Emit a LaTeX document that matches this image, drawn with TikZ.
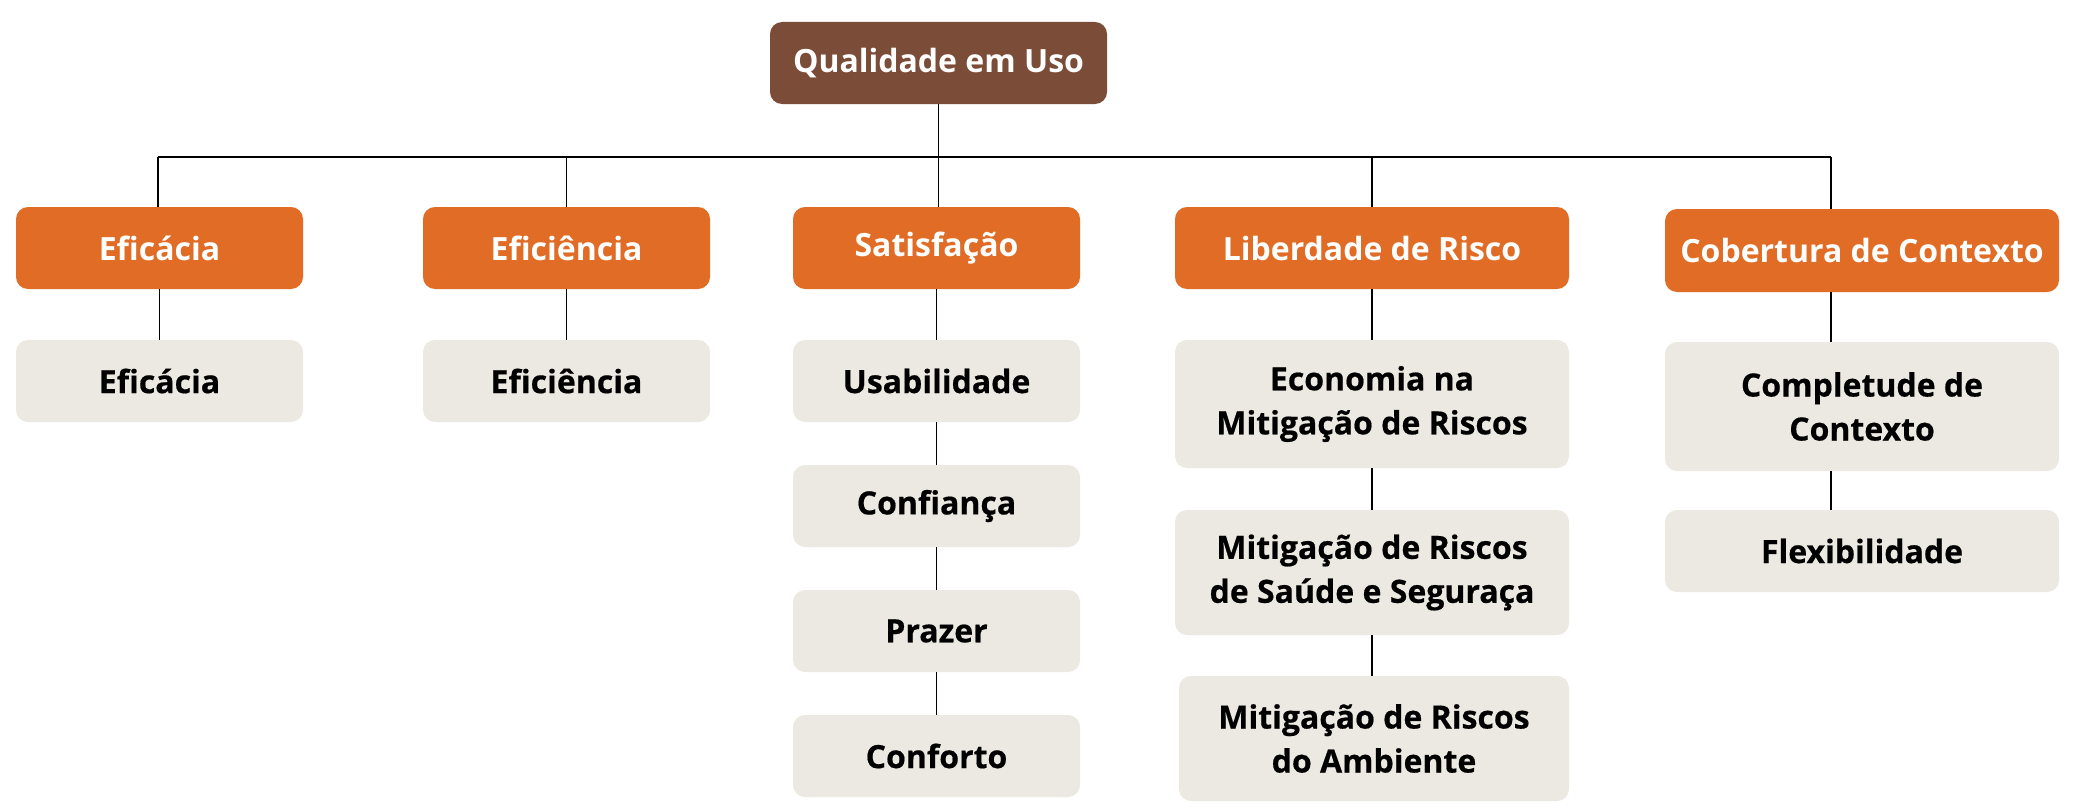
\documentclass[tikz,border=0pt]{standalone}
\usepackage{fontspec}
\setmainfont{Open Sans}
\IfFontExistsTF{Open Sans ExtraBold}
  {\newfontfamily\xbold{Open Sans ExtraBold}}
  {\newfontfamily\xbold{Open Sans}[FakeBold=0.5]}
\definecolor{qbrown}{HTML}{7B4C37}
\definecolor{qorange}{HTML}{E06C25}
\definecolor{qbeige}{HTML}{ECE9E2}
\tikzset{
  basebox/.style={rounded corners=12pt, inner sep=0pt, align=center},
  topbox/.style={basebox, fill=qbrown, text=white, font=\fontsize{32}{44}\selectfont\bfseries},
  catbox/.style={basebox, fill=qorange, text=white, font=\fontsize{32}{44}\selectfont\bfseries},
  subbox/.style={basebox, fill=qbeige, text=black, font=\fontsize{32}{44}\selectfont\xbold\bfseries},
  link/.style={draw=black, line width=1.6pt},
  buslink/.style={draw=black, line width=2.2pt}
}
\begin{document}
\begin{tikzpicture}[x=1pt,y=-1pt]
\useasboundingbox[fill=white] (0,0) rectangle (2076,808);
% top
\node[topbox, minimum width=337pt, minimum height=82pt] (q) at (938.5,63) {Qualidade em Uso};
% level 1
\node[catbox, minimum width=287pt, minimum height=82pt] (efc1) at (159.5,248) {Eficácia};
\node[catbox, minimum width=287pt, minimum height=82pt] (efi1) at (566.5,248) {Eficiência};
\node[catbox, minimum width=287pt, minimum height=82pt] (sat) at (936.5,248) {Satisfação};
\node[catbox, minimum width=394pt, minimum height=82pt] (lib) at (1372,248) {Liberdade de Risco};
\node[catbox, minimum width=394pt, minimum height=83pt] (cob) at (1862,250.5) {Cobertura de Contexto};
% level 2
\node[subbox, minimum width=287pt, minimum height=82pt] (efc2) at (159.5,381) {Eficácia};
\node[subbox, minimum width=287pt, minimum height=82pt] (efi2) at (566.5,381) {Eficiência};
\node[subbox, minimum width=287pt, minimum height=82pt] (usa) at (936.5,381) {Usabilidade};
\node[subbox, minimum width=287pt, minimum height=82pt] (conf) at (936.5,506) {Confiança};
\node[subbox, minimum width=287pt, minimum height=82pt] (praz) at (936.5,631) {Prazer};
\node[subbox, minimum width=287pt, minimum height=82pt] (conft) at (936.5,756) {Conforto};
\node[subbox, minimum width=394pt, minimum height=128pt] (eco) at (1372,404) {Economia na\\Mitigação de Riscos};
\node[subbox, minimum width=394pt, minimum height=125pt] (sau) at (1372,572.5) {Mitigação de Riscos\\de Saúde e Seguraça};
\node[subbox, minimum width=390pt, minimum height=125pt] (amb) at (1374,738.5) {Mitigação de Riscos\\do Ambiente};
\node[subbox, minimum width=394pt, minimum height=129pt] (comp) at (1862,406.5) {Completude de\\Contexto};
\node[subbox, minimum width=394pt, minimum height=82pt] (flex) at (1862,551) {Flexibilidade};
% bus
\coordinate (busL) at (158,157);
\coordinate (busR) at (1831,157);
\draw[buslink] (busL) -- (busR);
\draw[link] (q.south) -- (q.south |- sat.north);
\draw[link] (busL) -- (busL |- efc1.north);
\draw[link] (efi1.north |- busL) -- (efi1.north);
\draw[link] (lib.north |- busL) -- (lib.north);
\draw[link] (busR) -- (busR |- cob.north);
% columns
\draw[link] (efc1.south) -- (efc2.north);
\draw[link] (efi1.south) -- (efi2.north);
\draw[link] (sat.south) -- (usa.north);
\draw[link] (usa.south) -- (conf.north);
\draw[link] (conf.south) -- (praz.north);
\draw[link] (praz.south) -- (conft.north);
\draw[link] (lib.south) -- (eco.north);
\draw[link] (eco.south) -- (sau.north);
\draw[link] (sau.south) -- (sau.south |- amb.north);
\draw[link] (busR |- cob.south) -- (busR |- comp.north);
\draw[link] (busR |- comp.south) -- (busR |- flex.north);
\end{tikzpicture}
\end{document}
